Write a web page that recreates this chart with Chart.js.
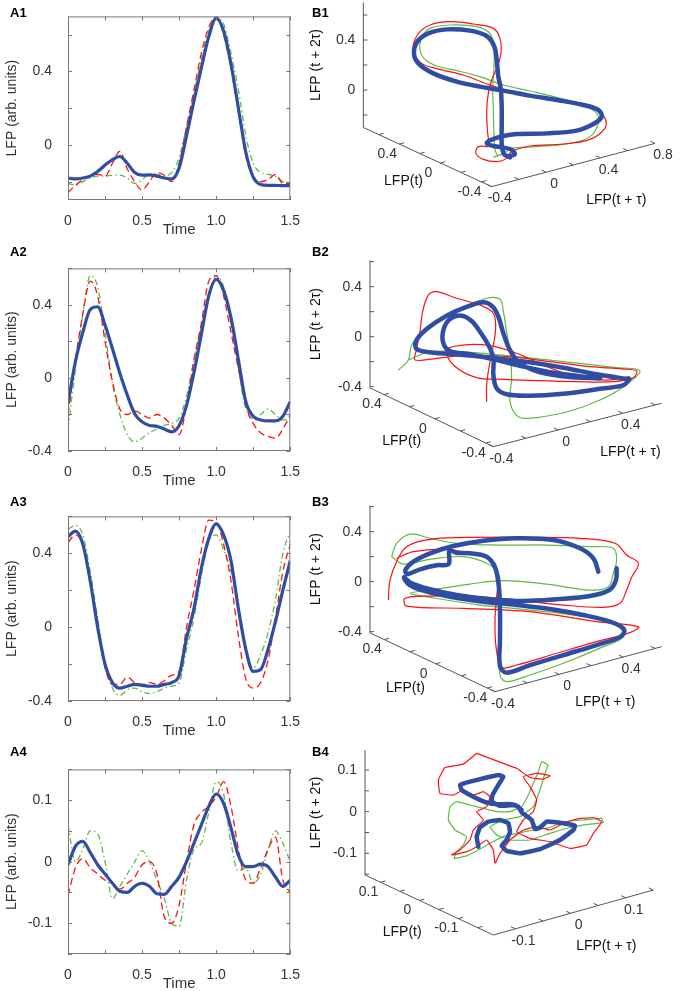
<!DOCTYPE html>
<html>
<head>
<meta charset="utf-8">
<script src="https://cdn.jsdelivr.net/npm/chart.js@4.4.0/dist/chart.umd.min.js"></script>
<style>
  html, body { margin: 0; padding: 0; background: #fff; }
  body { width: 680px; height: 991px; position: relative; overflow: hidden; font-family: "Liberation Sans", Arial, sans-serif; }
  canvas { position: absolute; }
  .lab { position: absolute; font-weight: bold; font-size: 13px; line-height: 16px; color: #000; }
</style>
</head>
<body>
<canvas id="a1" width="305" height="239" style="left:0;top:0"></canvas>
<canvas id="a2" width="305" height="238" style="left:0;top:252px"></canvas>
<canvas id="a3" width="305" height="240" style="left:0;top:500px"></canvas>
<canvas id="a4" width="305" height="240" style="left:0;top:753px"></canvas>
<canvas id="b1" width="375" height="250" style="left:305px;top:0"></canvas>
<canvas id="b2" width="375" height="250" style="left:305px;top:245px"></canvas>
<canvas id="b3" width="375" height="250" style="left:305px;top:490px"></canvas>
<canvas id="b4" width="375" height="251" style="left:305px;top:740px"></canvas>
<div class="lab" style="left:10px;top:5px">A1</div>
<div class="lab" style="left:10px;top:244px">A2</div>
<div class="lab" style="left:10px;top:494px">A3</div>
<div class="lab" style="left:10px;top:744px">A4</div>
<div class="lab" style="left:312px;top:5px">B1</div>
<div class="lab" style="left:312px;top:244px">B2</div>
<div class="lab" style="left:312px;top:494px">B3</div>
<div class="lab" style="left:312px;top:744px">B4</div>
<script>
// time grid of the LFP traces (s)
const time = [0, 0.05, 0.1, 0.15, 0.2, 0.25, 0.3, 0.35, 0.4, 0.45, 0.5, 0.55, 0.6, 0.65, 0.7,
  0.75, 0.8, 0.85, 0.9, 0.95, 1.0, 1.05, 1.1, 1.15, 1.2, 1.25, 1.3, 1.35, 1.4, 1.45, 1.5];
const timeLabels = [0, 0.5, 1.0, 1.5];

const a1Blue = [-0.18, -0.185, -0.18, -0.17, -0.145, -0.11, -0.08, -0.063, -0.1, -0.15, -0.165, -0.163, -0.17, -0.18, -0.185,
  -0.125, 0.05, 0.24, 0.42, 0.59, 0.69, 0.62, 0.44, 0.2, -0.04, -0.175, -0.215, -0.22, -0.22, -0.222, -0.222];
const a1Red = [-0.26, -0.22, -0.19, -0.17, -0.16, -0.17, -0.1, -0.035, -0.13, -0.2, -0.245, -0.2, -0.15, -0.165, -0.2,
  -0.1, 0.1, 0.3, 0.5, 0.64, 0.7, 0.6, 0.42, 0.18, -0.06, -0.17, -0.2, -0.19, -0.16, -0.21, -0.21];
const a1Green = [-0.21, -0.22, -0.2, -0.18, -0.17, -0.17, -0.165, -0.165, -0.18, -0.21, -0.19, -0.16, -0.16, -0.17, -0.15,
  -0.07, 0.1, 0.28, 0.47, 0.62, 0.69, 0.66, 0.5, 0.3, 0.05, -0.1, -0.15, -0.16, -0.17, -0.2, -0.21];

const a2Blue = [-0.14, 0.09, 0.25, 0.375, 0.39, 0.29, 0.16, 0.026, -0.094, -0.196, -0.24, -0.26, -0.265, -0.28, -0.295,
  -0.26, -0.15, 0.03, 0.24, 0.45, 0.54, 0.48, 0.33, 0.1, -0.13, -0.21, -0.23, -0.235, -0.235, -0.21, -0.13];
const a2Red = [-0.2, 0.1, 0.35, 0.53, 0.45, 0.2, -0.02, -0.17, -0.2, -0.18, -0.2, -0.22, -0.2, -0.22, -0.26,
  -0.31, -0.15, 0.1, 0.3, 0.53, 0.56, 0.45, 0.25, 0.05, -0.15, -0.25, -0.3, -0.32, -0.33, -0.28, -0.2];
const a2Green = [-0.28, 0.05, 0.35, 0.56, 0.5, 0.25, -0.03, -0.2, -0.31, -0.35, -0.33, -0.3, -0.28, -0.26, -0.25,
  -0.22, -0.1, 0.1, 0.28, 0.45, 0.56, 0.5, 0.3, 0.05, -0.17, -0.22, -0.2, -0.17, -0.2, -0.23, -0.22];

const a3Blue = [0.49, 0.52, 0.45, 0.25, 0.0, -0.2, -0.3, -0.33, -0.32, -0.31, -0.315, -0.32, -0.32, -0.31, -0.3,
  -0.26, -0.06, 0.1, 0.32, 0.48, 0.56, 0.5, 0.36, 0.1, -0.12, -0.24, -0.23, -0.12, 0.03, 0.2, 0.36];
const a3Red = [0.46, 0.5, 0.44, 0.24, 0.0, -0.22, -0.31, -0.31, -0.27, -0.3, -0.31, -0.3, -0.31, -0.29, -0.26,
  -0.24, 0.0, 0.2, 0.42, 0.58, 0.57, 0.45, 0.25, -0.05, -0.28, -0.33, -0.3, -0.18, 0.05, 0.3, 0.45];
const a3Green = [0.53, 0.55, 0.5, 0.3, 0.05, -0.2, -0.33, -0.37, -0.34, -0.33, -0.35, -0.36, -0.35, -0.33, -0.32,
  -0.3, -0.12, 0.05, 0.28, 0.46, 0.5, 0.42, 0.3, 0.1, -0.12, -0.22, -0.15, -0.03, 0.15, 0.4, 0.52];

const a4Blue = [-0.005, 0.025, 0.033, 0.015, -0.005, -0.02, -0.035, -0.048, -0.05, -0.04, -0.035, -0.04, -0.052, -0.053, -0.04,
  -0.025, 0.0, 0.03, 0.06, 0.09, 0.11, 0.095, 0.055, 0.01, -0.008, -0.008, -0.004, -0.008, -0.025, -0.04, -0.03];
const a4Red = [-0.055, -0.01, 0.005, -0.01, -0.02, -0.03, -0.035, -0.045, -0.035, -0.025, -0.005, 0.0, -0.02, -0.09, -0.1,
  -0.07, 0.0, 0.06, 0.08, 0.09, 0.105, 0.13, 0.09, 0.02, -0.03, -0.035, -0.01, 0.02, 0.04, -0.03, -0.05];
const a4Green = [0.06, 0.0, 0.02, 0.05, 0.045, 0.0, -0.06, -0.04, -0.02, 0.0, 0.018, 0.0, -0.03, -0.06, -0.1,
  -0.105, -0.03, 0.02, 0.03, 0.08, 0.13, 0.11, 0.03, -0.015, -0.01, -0.035, -0.02, 0.02, 0.05, 0.03, 0.0];

const b1Blue = [[1.16,-0.533],[1.213,-0.512],[1.173,-0.472],[1.04,-0.448],[0.987,-0.427],[1.019,-0.4],[1.12,-0.368],
  [1.227,-0.352],[1.467,-0.347],[1.707,-0.325],[1.84,-0.272],[1.907,-0.213],[1.88,-0.16],[1.76,-0.12],[1.547,-0.08],
  [1.333,-0.045],[1.12,-0.005],[0.933,0.027],[0.747,0.067],[0.56,0.133],[0.44,0.213],[0.405,0.293],[0.432,0.387],
  [0.52,0.453],[0.667,0.485],[0.853,0.475],[0.987,0.432],[1.048,0.347],[1.067,0.24],[1.08,0.107],[1.099,0.013],
  [1.107,-0.133],[1.107,-0.293],[1.107,-0.427],[1.125,-0.512],[1.173,-0.539]];
const b1Red = [[1.0,-0.453],[0.92,-0.453],[0.901,-0.507],[0.96,-0.555],[1.067,-0.573],[1.133,-0.555],[1.187,-0.493],
  [1.333,-0.448],[1.6,-0.432],[1.813,-0.395],[1.933,-0.307],[1.933,-0.227],[1.84,-0.133],[1.653,-0.093],[1.44,-0.059],
  [1.227,-0.021],[1.013,0.04],[0.8,0.12],[0.613,0.165],[0.467,0.213],[0.4,0.32],[0.432,0.44],[0.533,0.52],[0.693,0.547],
  [0.88,0.528],[1.04,0.493],[1.093,0.413],[1.101,0.293],[1.067,0.173],[1.027,0.08],[1.0,-0.027],[0.987,-0.16],
  [0.992,-0.32],[1.008,-0.44]];
const b1Green = [[1.04,-0.539],[1.12,-0.507],[1.187,-0.467],[1.387,-0.453],[1.653,-0.427],[1.813,-0.373],[1.88,-0.267],
  [1.867,-0.187],[1.76,-0.12],[1.547,-0.059],[1.333,-0.008],[1.12,0.04],[0.933,0.107],[0.747,0.155],[0.587,0.192],
  [0.493,0.245],[0.453,0.32],[0.467,0.421],[0.533,0.493],[0.693,0.52],[0.907,0.507],[1.013,0.453],[1.045,0.347],
  [1.045,0.187],[1.035,0.027],[1.04,-0.16],[1.045,-0.347],[1.053,-0.48],[1.08,-0.533]];

const b2Blue = [[2.075,-0.341],[1.813,-0.301],[1.547,-0.248],[1.28,-0.205],[1.013,-0.173],[0.747,-0.147],[0.48,-0.125],
  [0.373,-0.099],[0.368,-0.035],[0.453,0.061],[0.613,0.168],[0.8,0.248],[0.912,0.275],[0.981,0.24],[1.027,0.16],
  [1.067,0.027],[1.12,-0.107],[1.2,-0.213],[1.36,-0.285],[1.6,-0.323],[1.84,-0.333],[1.76,-0.325],[1.493,-0.293],
  [1.227,-0.24],[1.013,-0.187],[0.8,-0.141],[0.64,-0.115],[0.587,-0.053],[0.587,0.053],[0.64,0.141],[0.733,0.168],
  [0.813,0.125],[0.88,0.04],[0.947,-0.067],[0.987,-0.173],[0.987,-0.307],[1.013,-0.413],[1.093,-0.461],[1.28,-0.472],
  [1.547,-0.456],[1.813,-0.421],[2.027,-0.387],[2.075,-0.341]];
const b2Red = [[0.933,-0.52],[0.933,-0.387],[0.955,-0.227],[0.987,-0.067],[1.005,0.067],[0.987,0.187],[0.88,0.253],
  [0.693,0.307],[0.533,0.36],[0.467,0.333],[0.421,0.2],[0.4,0.04],[0.368,-0.12],[0.36,-0.187],[0.533,-0.173],
  [0.8,-0.147],[1.12,-0.16],[1.44,-0.2],[1.76,-0.24],[2.027,-0.259],[2.133,-0.275],[2.107,-0.328],[1.947,-0.36],
  [1.653,-0.36],[1.333,-0.352],[1.067,-0.341],[0.853,-0.328],[0.667,-0.227],[0.613,-0.107],[0.747,-0.067],
  [0.96,-0.072],[1.173,-0.133],[1.413,-0.24],[1.653,-0.32],[1.893,-0.347],[2.08,-0.32]];
const b2Green = [[0.227,-0.267],[0.307,-0.187],[0.333,-0.067],[0.413,0.019],[0.533,0.125],[0.747,0.232],[0.933,0.307],
  [1.04,0.299],[1.067,0.2],[1.093,0.04],[1.12,-0.12],[1.133,-0.333],[1.12,-0.52],[1.187,-0.64],[1.333,-0.648],
  [1.6,-0.595],[1.84,-0.507],[2.027,-0.4],[2.16,-0.275],[1.973,-0.248],[1.6,-0.205],[1.173,-0.16],[0.8,-0.125],
  [0.48,-0.12],[0.307,-0.187]];

const b3Blue = [[1.973,0.107],[1.968,0.013],[1.915,-0.067],[1.76,-0.115],[1.493,-0.141],[1.227,-0.155],[0.96,-0.141],
  [0.693,-0.107],[0.48,-0.061],[0.333,-0.013],[0.272,0.035],[0.307,-0.019],[0.427,-0.072],[0.64,-0.12],[0.907,-0.16],
  [1.173,-0.187],[1.44,-0.219],[1.707,-0.267],[1.92,-0.32],[2.032,-0.381],[2.005,-0.44],[1.813,-0.507],[1.547,-0.587],
  [1.28,-0.667],[1.093,-0.728],[1.04,-0.675],[1.04,-0.467],[1.04,-0.227],[1.029,-0.027],[1.0,0.115],[0.933,0.2],
  [0.8,0.227],[0.688,0.232],[0.635,0.248],[0.629,0.141],[0.533,0.131],[0.4,0.099],[0.299,0.061],[0.283,0.093],
  [0.347,0.16],[0.48,0.227],[0.667,0.285],[0.907,0.328],[1.173,0.347],[1.467,0.333],[1.68,0.267],[1.787,0.187],
  [1.827,0.08]];
const b3Red = [[0.147,-0.147],[0.16,0.013],[0.213,0.16],[0.293,0.28],[0.48,0.339],[0.88,0.355],[1.28,0.355],
  [1.68,0.347],[1.96,0.307],[2.053,0.213],[2.147,0.147],[2.093,0.035],[2.048,-0.08],[2.0,-0.173],[1.867,-0.205],
  [1.547,-0.187],[1.173,-0.147],[0.8,-0.115],[0.48,-0.115],[0.28,-0.133],[0.293,-0.195],[0.747,-0.213],[1.28,-0.24],
  [1.813,-0.32],[2.147,-0.36],[2.08,-0.408],[1.813,-0.48],[1.493,-0.573],[1.173,-0.667],[1.053,-0.685],[1.008,-0.52],
  [1.0,-0.307],[1.013,-0.12],[1.027,0.04],[0.987,0.16],[0.853,0.213],[0.613,0.259],[0.347,0.24],[0.213,0.187]];
const b3Green = [[0.173,0.2],[0.213,0.307],[0.32,0.381],[0.48,0.347],[0.693,0.307],[1.013,0.293],[1.413,0.293],
  [1.76,0.28],[1.947,0.267],[1.973,0.173],[1.947,0.067],[1.907,-0.04],[1.76,-0.067],[1.413,-0.019],[1.067,0.008],
  [0.8,-0.019],[0.48,-0.067],[0.32,-0.093],[0.48,-0.125],[0.88,-0.187],[1.28,-0.227],[1.707,-0.28],[1.973,-0.347],
  [2.027,-0.44],[1.867,-0.52],[1.547,-0.653],[1.28,-0.747],[1.093,-0.8],[1.04,-0.747],[1.04,-0.547],[1.045,-0.28],
  [1.045,-0.067],[1.027,0.067],[0.933,0.147],[0.747,0.2],[0.48,0.179],[0.267,0.141],[0.173,0.2]];

const b4Blue = [[0.272,-0.084],[0.268,-0.06],[0.276,-0.038],[0.296,-0.024],[0.324,-0.02],[0.344,-0.028],[0.348,-0.048],
  [0.34,-0.068],[0.328,-0.082],[0.34,-0.094],[0.372,-0.1],[0.42,-0.09],[0.468,-0.068],[0.5,-0.044],[0.504,-0.034],
  [0.476,-0.028],[0.436,-0.024],[0.42,-0.038],[0.408,-0.042],[0.4,-0.02],[0.376,-0.002],[0.368,0.012],[0.352,0.018],
  [0.316,0.018],[0.292,0.022],[0.26,0.036],[0.232,0.052],[0.228,0.064],[0.252,0.072],[0.292,0.082],[0.32,0.088],
  [0.332,0.084],[0.32,0.064],[0.306,0.04],[0.304,0.024],[0.324,0.014],[0.36,0.016],[0.376,0.004]];
const b4Red = [[0.268,0.14],[0.236,0.114],[0.192,0.106],[0.176,0.076],[0.18,0.044],[0.212,0.04],[0.236,0.052],
  [0.26,0.04],[0.284,0.048],[0.3,0.036],[0.292,0.012],[0.268,0.0],[0.284,-0.02],[0.26,-0.044],[0.252,-0.068],
  [0.228,-0.092],[0.208,-0.104],[0.244,-0.096],[0.268,-0.084],[0.292,-0.068],[0.308,-0.092],[0.312,-0.124],
  [0.324,-0.1],[0.348,-0.068],[0.38,-0.044],[0.412,-0.036],[0.444,-0.044],[0.476,-0.028],[0.508,-0.018],
  [0.548,-0.014],[0.568,-0.024],[0.548,-0.052],[0.532,-0.08],[0.492,-0.088],[0.444,-0.072],[0.396,-0.064],
  [0.364,-0.048],[0.38,-0.02],[0.404,0.0],[0.412,0.028],[0.396,0.06],[0.38,0.084],[0.412,0.092],[0.444,0.086],
  [0.428,0.078],[0.396,0.082],[0.364,0.104],[0.332,0.116],[0.3,0.128],[0.268,0.14]];
const b4Green = [[0.44,0.112],[0.424,0.12],[0.416,0.096],[0.404,0.068],[0.392,0.04],[0.376,0.012],[0.348,0.0],
  [0.316,0.0],[0.284,0.008],[0.252,0.016],[0.22,0.024],[0.204,0.012],[0.2,-0.02],[0.216,-0.044],[0.244,-0.06],
  [0.236,-0.08],[0.22,-0.096],[0.214,-0.112],[0.244,-0.106],[0.272,-0.092],[0.3,-0.076],[0.332,-0.06],[0.364,-0.052],
  [0.404,-0.044],[0.444,-0.038],[0.476,-0.024],[0.524,-0.02],[0.568,-0.016],[0.572,-0.026],[0.54,-0.03],
  [0.492,-0.038],[0.444,-0.052],[0.396,-0.068],[0.348,-0.068],[0.316,-0.056],[0.3,-0.036],[0.332,-0.02],
  [0.372,-0.012],[0.404,0.012],[0.42,0.052],[0.432,0.092],[0.44,0.112]];

const BLUE = '#2f4ea3';
const RED = '#ff1010';
const GREEN = '#62b845';
const TXT = '#333';
const AXIS = '#555';
const FONT = '"Liberation Sans", Arial, sans-serif';

const isMult = (v, s) => Math.abs(v / s - Math.round(v / s)) < 1e-6;
const fmt = v => Math.abs(v) < 1e-9 ? '0' : v.toFixed(1);
function tickValues(min, max, step) {
  const out = [];
  for (let k = Math.ceil(min / step - 1e-9); k * step <= max + 1e-9; k++) out.push(+(k * step).toFixed(6));
  return out;
}

// frame with inward ticks, matlab style
const boxPlugin = {
  id: 'box',
  afterDraw(chart, args, opts) {
    const {ctx, chartArea: a, scales: {x, y}} = chart;
    ctx.save();
    ctx.strokeStyle = '#777';
    ctx.lineWidth = 1;
    ctx.strokeRect(a.left + 0.5, a.top + 0.5, a.right - a.left - 1, a.bottom - a.top - 1);
    ctx.beginPath();
    tickValues(x.min, x.max, opts.xStep).forEach(v => {
      const px = Math.round(x.getPixelForValue(v)) + 0.5;
      ctx.moveTo(px, a.bottom); ctx.lineTo(px, a.bottom - 4);
      ctx.moveTo(px, a.top); ctx.lineTo(px, a.top + 4);
    });
    tickValues(y.min, y.max, opts.yStep).forEach(v => {
      const py = Math.round(y.getPixelForValue(v)) + 0.5;
      ctx.moveTo(a.left, py); ctx.lineTo(a.left + 4, py);
      ctx.moveTo(a.right, py); ctx.lineTo(a.right - 4, py);
    });
    ctx.stroke();
    ctx.restore();
  }
};

const aPanels = [
  {id: 'a1', yMin: -0.3, yMax: 0.7, yStep: 0.2, yLab: 0.4, series: [a1Blue, a1Red, a1Green]},
  {id: 'a2', yMin: -0.4, yMax: 0.6, yStep: 0.2, yLab: 0.4, series: [a2Blue, a2Red, a2Green]},
  {id: 'a3', yMin: -0.4, yMax: 0.6, yStep: 0.2, yLab: 0.4, series: [a3Blue, a3Red, a3Green]},
  {id: 'a4', yMin: -0.15, yMax: 0.15, yStep: 0.05, yLab: 0.1, series: [a4Blue, a4Red, a4Green]}
];

function makeA(p) {
  const pts = s => time.map((t, i) => ({x: t, y: s[i]}));
  new Chart(document.getElementById(p.id), {
    type: 'line',
    data: {
      datasets: [
        {data: pts(p.series[0]), borderColor: BLUE, borderWidth: 3.2, pointRadius: 0, cubicInterpolationMode: 'monotone', borderJoinStyle: 'round'},
        {data: pts(p.series[1]), borderColor: RED, borderWidth: 1.3, borderDash: [7, 4], pointRadius: 0, cubicInterpolationMode: 'monotone'},
        {data: pts(p.series[2]), borderColor: GREEN, borderWidth: 1.3, borderDash: [6, 3, 1.5, 3], pointRadius: 0, cubicInterpolationMode: 'monotone'}
      ]
    },
    options: {
      responsive: false,
      animation: false,
      events: [],
      layout: {padding: {top: 5, right: 13, left: 0, bottom: 0}},
      plugins: {legend: {display: false}, tooltip: {enabled: false}, box: {xStep: 0.25, yStep: p.yStep}},
      scales: {
        x: {
          type: 'linear', min: 0, max: 1.5,
          afterFit: s => { s.height = 39; },
          afterBuildTicks: s => { s.ticks = tickValues(0, 1.5, 0.25).map(v => ({value: v})); },
          grid: {display: false}, border: {display: false},
          ticks: {
            autoSkip: false, maxRotation: 0, padding: 5, color: TXT,
            font: {family: FONT, size: 14},
            callback: v => timeLabels.some(l => Math.abs(l - v) < 1e-6) ? (v === 1 ? '1.0' : String(v)) : ''
          },
          title: {display: true, text: 'Time', color: TXT, font: {family: FONT, size: 15}, padding: 0}
        },
        y: {
          type: 'linear', min: p.yMin, max: p.yMax,
          afterFit: s => { s.width = 68; },
          afterBuildTicks: s => { s.ticks = tickValues(p.yMin, p.yMax, p.yStep).map(v => ({value: v})); },
          grid: {display: false}, border: {display: false},
          ticks: {
            autoSkip: false, padding: 8, color: TXT,
            font: {family: FONT, size: 14},
            callback: v => isMult(v, p.yLab) ? fmt(v) : ''
          },
          title: {display: true, text: 'LFP (arb. units)', color: TXT, font: {family: FONT, size: 14}, padding: {top: 4, bottom: 0}}
        }
      }
    },
    plugins: [boxPlugin]
  });
}

// 3-D view geometry: z axis at h = 0, floor corner C and right end R in view units
const bPanels = [
  {id: 'b1', hMin: -0.4667, hMax: 2.5333, vMin: -1.28, vMax: 0.72, z: [-0.3, 0.7], C: [1.027, -0.773], R: [2.333, -0.427],
   t: [-0.5, 0.75], t1: [-0.4, 0.8], step: 0.2, lab: 0.4, tTitle: [-24, 24], t1Title: [43, 35], smooth: 0.35,
   series: [b1Blue, b1Red, b1Green]},
  {id: 'b2', hMin: -0.52, hMax: 2.48, vMin: -1.2667, vMax: 0.7333, z: [-0.41, 0.61], C: [0.987, -0.88], R: [2.333, -0.533],
   t: [-0.46, 0.51], t1: [-0.4, 0.64], step: 0.2, lab: 0.4, tTitle: [-30, 24], t1Title: [53, 27], smooth: 0.35,
   series: [b2Blue, b2Red, b2Green]},
  {id: 'b3', hMin: -0.52, hMax: 2.48, vMin: -1.2667, vMax: 0.7333, z: [-0.41, 0.61], C: [1.0, -0.88], R: [2.333, -0.52],
   t: [-0.46, 0.51], t1: [-0.4, 0.64], step: 0.2, lab: 0.4, tTitle: [-27, 26], t1Title: [27, 33], smooth: 0.35,
   series: [b3Blue, b3Red, b3Green]},
  {id: 'b4', hMin: -0.144, hMax: 0.756, vMin: -0.4304, vMax: 0.172, z: [-0.152, 0.148], C: [0.308, -0.296], R: [0.692, -0.188],
   t: [-0.19, 0.14], t1: [-0.14, 0.15], step: 0.05, lab: 0.1, tTitle: [-27, 27], t1Title: [33, 34], smooth: 0.1,
   series: [b4Blue, b4Red, b4Green]}
];

function axes3d(g) {
  return {
    id: 'axes3d',
    beforeDatasetsDraw(chart) {
      const {ctx, scales: {x, y}} = chart;
      const px = p => [x.getPixelForValue(p[0]), y.getPixelForValue(p[1])];
      const lerp = (a, b, f) => [a[0] + (b[0] - a[0]) * f, a[1] + (b[1] - a[1]) * f];
      const P0 = [0, g.z[0]], TOP = [0, g.z[1]];
      const zPt = v => px([0, v]);
      const tPt = v => px(lerp(P0, g.C, (g.t[1] - v) / (g.t[1] - g.t[0])));
      const t1Pt = v => px(lerp(g.C, g.R, (v - g.t1[0]) / (g.t1[1] - g.t1[0])));
      const unit = (a, b) => { const dx = b[0] - a[0], dy = b[1] - a[1], l = Math.hypot(dx, dy); return [dx / l, dy / l]; };
      const cPx = px(g.C), rPx = px(g.R), p0Px = px(P0), topPx = px(TOP);
      const dirT1 = unit(cPx, rPx), dirT = unit(cPx, p0Px);

      ctx.save();
      ctx.strokeStyle = AXIS;
      ctx.lineWidth = 1;
      ctx.beginPath();
      ctx.moveTo(topPx[0], topPx[1]); ctx.lineTo(p0Px[0], p0Px[1]);
      ctx.lineTo(cPx[0], cPx[1]); ctx.lineTo(rPx[0], rPx[1]);
      ctx.stroke();

      ctx.fillStyle = TXT;
      ctx.font = '14px ' + FONT;
      ctx.beginPath();
      // z axis
      ctx.textAlign = 'right'; ctx.textBaseline = 'middle';
      tickValues(g.z[0], g.z[1], g.step).forEach(v => {
        const q = zPt(v);
        ctx.moveTo(q[0], q[1]); ctx.lineTo(q[0] + 4, q[1]);
        if (isMult(v, g.lab)) ctx.fillText(fmt(v), q[0] - 8, q[1]);
      });
      // LFP(t) axis
      ctx.textAlign = 'center';
      tickValues(g.t[0], g.t[1], g.step).forEach(v => {
        const q = tPt(v);
        ctx.moveTo(q[0], q[1]); ctx.lineTo(q[0] + dirT1[0] * 5, q[1] + dirT1[1] * 5);
        if (isMult(v, g.lab)) ctx.fillText(fmt(v), q[0] - 12, q[1] + 10);
      });
      // LFP(t + tau) axis
      tickValues(g.t1[0], g.t1[1], g.step).forEach(v => {
        const q = t1Pt(v);
        ctx.moveTo(q[0], q[1]); ctx.lineTo(q[0] + dirT[0] * 5, q[1] + dirT[1] * 5);
        if (isMult(v, g.lab)) ctx.fillText(fmt(v), q[0] + 8, q[1] + 12);
      });
      ctx.stroke();

      const mT = lerp(p0Px, cPx, 0.5), mT1 = lerp(cPx, rPx, 0.5);
      ctx.fillStyle = '#111';
      ctx.font = '14px ' + FONT;
      ctx.fillText('LFP(t)', mT[0] + g.tTitle[0], mT[1] + g.tTitle[1]);
      ctx.fillText('LFP(t + τ)', mT1[0] + g.t1Title[0], mT1[1] + g.t1Title[1]);
      ctx.translate(11, (topPx[1] + p0Px[1]) / 2);
      ctx.rotate(-Math.PI / 2);
      ctx.fillText('LFP (t + 2τ)', 0, 0);
      ctx.restore();
    }
  };
}

function makeB(p) {
  const pts = s => s.map(q => ({x: q[0], y: q[1]}));
  const geom = {z: p.z, C: p.C, R: p.R, t: p.t, t1: p.t1, step: p.step, lab: p.lab, tTitle: p.tTitle, t1Title: p.t1Title};
  new Chart(document.getElementById(p.id), {
    type: 'scatter',
    data: {
      datasets: [
        {data: pts(p.series[0]), showLine: true, borderColor: BLUE, borderWidth: 4.5, pointRadius: 0, tension: p.smooth,
         borderJoinStyle: 'round', borderCapStyle: 'round'},
        {data: pts(p.series[1]), showLine: true, borderColor: RED, borderWidth: 1.2, pointRadius: 0, tension: p.smooth},
        {data: pts(p.series[2]), showLine: true, borderColor: GREEN, borderWidth: 1.2, pointRadius: 0, tension: p.smooth}
      ]
    },
    options: {
      responsive: false,
      animation: false,
      events: [],
      layout: {padding: 0},
      plugins: {legend: {display: false}, tooltip: {enabled: false}},
      scales: {
        x: {type: 'linear', display: false, min: p.hMin, max: p.hMax},
        y: {type: 'linear', display: false, min: p.vMin, max: p.vMax}
      }
    },
    plugins: [axes3d(geom)]
  });
}

aPanels.forEach(makeA);
bPanels.forEach(makeB);
</script>
</body>
</html>
